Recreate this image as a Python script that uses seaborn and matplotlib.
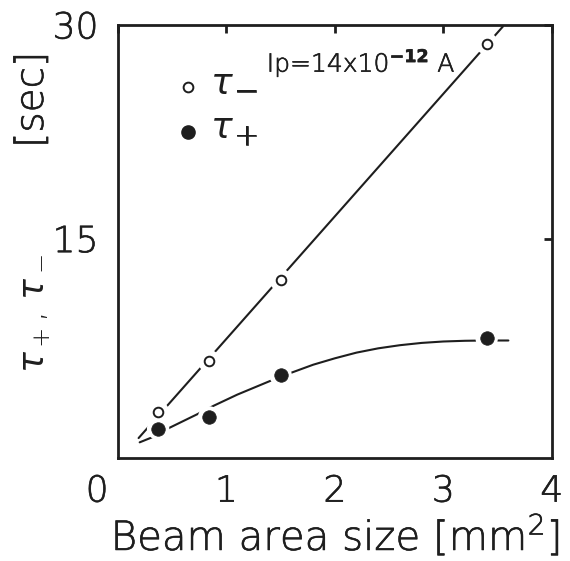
import numpy as np
import pandas as pd
import matplotlib
matplotlib.use("Agg")
import matplotlib.pyplot as plt
import matplotlib.patheffects as pe
from matplotlib.text import Text
import seaborn as sns

# ---- data ----
area = [0.37, 0.84, 1.50, 3.40]            # beam area size [mm^2]
tau_minus = [2.8, 6.4, 12.1, 28.7]         # open circles
tau_plus = [1.65, 2.45, 5.4, 8.0]          # filled circles

# guide lines drawn in the original figure
minus_line_x = [0.19, 3.55]
minus_line_y = [1.0, 29.9]
plus_curve_x = [0.20, 0.33, 0.48, 0.73, 0.88, 1.10, 1.40, 1.61, 1.80, 2.00, 2.20,
                2.40, 2.60, 2.80, 3.00, 3.20, 3.40, 3.60]
plus_curve_y = [0.70, 1.10, 1.74, 2.67, 3.26, 4.05, 5.00, 5.62, 6.15, 6.60, 7.00,
                7.30, 7.52, 7.68, 7.78, 7.83, 7.85, 7.85]

x_ticks = [0, 1, 2, 3, 4]
x_ticklabels = ["", "1", "2", "3", "4"]
y_ticks = [15, 30]
y_ticklabels = ["15", "30"]

INK = "#1e1e1e"

sns.set_theme(style="white")
plt.rcParams["font.family"] = ["DejaVu Sans"]
plt.rcParams["font.weight"] = "light"
plt.rcParams["mathtext.fontset"] = "dejavusans"

fig = plt.figure(figsize=(5.7, 5.61), dpi=100)
ax = fig.add_axes([0.207, 0.1836, 0.761, 0.7718])

df = pd.DataFrame({"area": area, "tau_minus": tau_minus, "tau_plus": tau_plus})
line_df = pd.DataFrame({"x": minus_line_x, "y": minus_line_y})
curve_df = pd.DataFrame({"x": plus_curve_x, "y": plus_curve_y})

sns.lineplot(data=line_df, x="x", y="y", ax=ax, color=INK, lw=1.5, zorder=2, sort=False)
sns.lineplot(data=curve_df, x="x", y="y", ax=ax, color=INK, lw=1.5, zorder=2, sort=False)

# white halos to break the lines around the markers
for col in ["tau_minus", "tau_plus"]:
    sns.scatterplot(data=df, x="area", y=col, ax=ax, s=260, color="white",
                    edgecolor="none", linewidth=0, zorder=3, legend=False)

sns.scatterplot(data=df, x="area", y="tau_minus", ax=ax, s=48, marker="o",
                facecolor="white", edgecolor=INK, linewidth=1.4, zorder=4, legend=False)
sns.scatterplot(data=df, x="area", y="tau_plus", ax=ax, s=95, marker="o",
                color=INK, edgecolor=INK, linewidth=0.5, zorder=4, legend=False)

ax.set_xlim(0, 4)
ax.set_ylim(-0.4, 30)
ax.set_xticks(x_ticks)
ax.set_xticklabels(x_ticklabels)
ax.set_yticks(y_ticks)
ax.set_yticklabels(y_ticklabels)
ax.set_xlabel("")
ax.set_ylabel("")

for sp in ax.spines.values():
    sp.set_visible(True)
    sp.set_color(INK)
    sp.set_linewidth(2.0)

ax.tick_params(axis="both", direction="in", length=6, width=2, color=INK,
               top=True, right=True, labeltop=False, labelright=False,
               labelsize=26, labelcolor=INK)
ax.tick_params(axis="x", pad=12)
ax.tick_params(axis="y", pad=14)

# shifted "0" label at the corner
ax.annotate("0", xy=(0, 0), xycoords="axes fraction", xytext=(-15, -12),
            textcoords="offset points", ha="center", va="top", fontsize=26, color=INK)

# legend drawn inside the axes
ax.plot([0.162], [0.857], marker="o", ms=7, mfc="white", mec=INK, mew=1.4,
        transform=ax.transAxes, ls="none")
ax.plot([0.162], [0.754], marker="o", ms=9.5, mfc=INK, mec=INK,
        transform=ax.transAxes, ls="none")
ax.text(0.212, 0.864, r"$\tau$", transform=ax.transAxes, fontsize=26,
        va="center", ha="left", color=INK)
ax.text(0.297, 0.845, "\u2212", transform=ax.transAxes, fontsize=22,
        va="center", ha="center", color=INK)
ax.text(0.212, 0.762, r"$\tau$", transform=ax.transAxes, fontsize=26,
        va="center", ha="left", color=INK)
ax.text(0.297, 0.742, "+", transform=ax.transAxes, fontsize=22,
        va="center", ha="center", color=INK)
ax.text(0.343, 0.912, r"Ip=14x10$^{\mathbf{-12}}$ A", transform=ax.transAxes,
        fontsize=18, va="center", ha="left", color=INK)

# axis labels
fig.text(0.056, 0.822, "[sec]", rotation=90, ha="center", va="center",
         fontsize=28, color=INK)
fig.text(0.061, 0.442, r"$\tau_+$, $\tau_-$", rotation=90, ha="center", va="center",
         fontsize=25, color=INK)
fig.text(0.588, 0.046, r"Beam area size [mm$^2$]", ha="center", va="center",
         fontsize=29, color=INK)

# thicken the extra-light lettering slightly (not the math tau glyphs)
stroke = [pe.withStroke(linewidth=0.45, foreground=INK)]
for t in fig.findobj(Text):
    s = t.get_text()
    if s and "\\tau" not in s:
        t.set_path_effects(stroke)
for t in ax.get_xticklabels() + ax.get_yticklabels():
    t.set_path_effects(stroke)

fig.savefig("out.png", dpi=100, facecolor="white")
